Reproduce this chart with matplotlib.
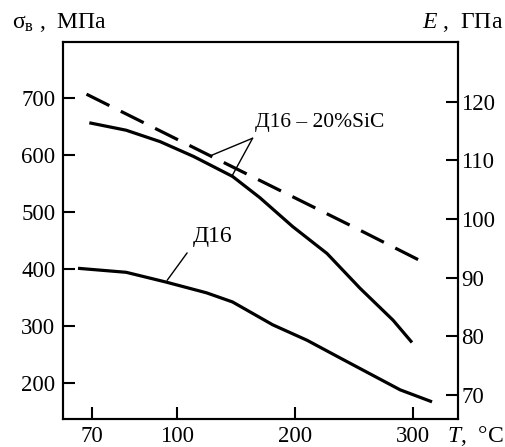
import numpy as np
import matplotlib
matplotlib.use("Agg")
import matplotlib.pyplot as plt

plt.rcParams["font.family"] = ["Liberation Serif", "DejaVu Serif"]
plt.rcParams["mathtext.fontset"] = "custom"
plt.rcParams["mathtext.rm"] = "Liberation Serif"
plt.rcParams["mathtext.it"] = "Liberation Serif:italic"

# Д16 - 20%SiC, modulus E (right axis), GPa
t_e = [68, 100, 150, 200, 250, 308]
e_comp = [121.3, 113.6, 108.6, 103.6, 98.6, 92.7]

# Д16 - 20%SiC, strength (left axis), MPa
t_comp = [69, 82, 94, 114, 147, 170, 198, 227, 255, 283, 299]
s_comp = [656, 643, 623, 597, 562, 525, 474, 427, 366, 310, 271]

# Д16, strength (left axis), MPa
t_d16 = [65, 82, 96, 125, 147, 181, 210, 238, 289, 316]
s_d16 = [401, 394, 377, 358, 342, 302, 275, 244, 188, 167]

x_ticks = [70, 100, 200, 300]
left_ticks = [200, 300, 400, 500, 600, 700]
right_ticks = [70, 80, 90, 100, 110, 120]

# temperature axis of the original is stretched below 100 °C
knots_t = [0, 100, 500]
knots_u = [-106, 177, 649]


def fwd(t):
    return np.interp(t, knots_t, knots_u)


def inv(u):
    return np.interp(u, knots_u, knots_t)


fig = plt.figure(figsize=(5.05, 4.47), dpi=100)
ax = fig.add_axes([63 / 505, 1 - 419 / 447, 395 / 505, 377 / 447])
ax.set_xscale("function", functions=(fwd, inv))
ax.set_xlim(59.7, 338)
ax.set_ylim(136.9, 797.6)
ax.set_xticks(x_ticks)
ax.set_xticklabels([str(v) for v in x_ticks])
ax.set_yticks(left_ticks)
ax.minorticks_off()

ax2 = ax.twinx()
ax2.set_ylim(65.9, 130.2)
ax2.set_yticks(right_ticks)

for a in (ax, ax2):
    for s in a.spines.values():
        s.set_linewidth(1.5)
ax.tick_params(axis="x", direction="in", length=8.5, width=1.5, pad=5, labelsize=16.5)
ax.tick_params(axis="y", direction="in", length=8.5, width=1.5, pad=5.5, labelsize=16.5)
ax2.tick_params(axis="y", direction="in", length=8.5, width=1.5, pad=2.5, labelsize=16.5)

ax.plot(t_comp, s_comp, color="black", lw=2.3, solid_capstyle="butt")
ax.plot(t_d16, s_d16, color="black", lw=2.3, solid_capstyle="butt")
ax2.plot(t_e, e_comp, color="black", lw=2.3, dashes=(8, 4), dash_capstyle="butt")

# labels with leaders
ax.text(166, 657, "Д16 – 20%SiC", fontsize=15.5, ha="left", va="center")
ax.annotate("", xy=(128, 598), xytext=(164, 629),
            arrowprops=dict(arrowstyle="-", lw=1.0, color="black", shrinkA=0, shrinkB=0))
ax.annotate("", xy=(146.6, 563), xytext=(164, 629),
            arrowprops=dict(arrowstyle="-", lw=1.0, color="black", shrinkA=0, shrinkB=0))
ax.text(130, 456, "Д16", fontsize=17, ha="center", va="center")
ax.annotate("", xy=(96.5, 380), xytext=(108.5, 428),
            arrowprops=dict(arrowstyle="-", lw=1.0, color="black", shrinkA=0, shrinkB=0))

fig.text(12 / 505, 1 - 22 / 447, r"$\mathrm{σ}_\mathrm{в}$ ,  МПа", fontsize=17, ha="left", va="center")
fig.text(503 / 505, 1 - 22 / 447, r"$E$ ,  ГПа", fontsize=17, ha="right", va="center")
fig.text(504 / 505, 1 - 436 / 447, r"$T$,  °C", fontsize=17, ha="right", va="center")

fig.savefig("out.png", dpi=100)
